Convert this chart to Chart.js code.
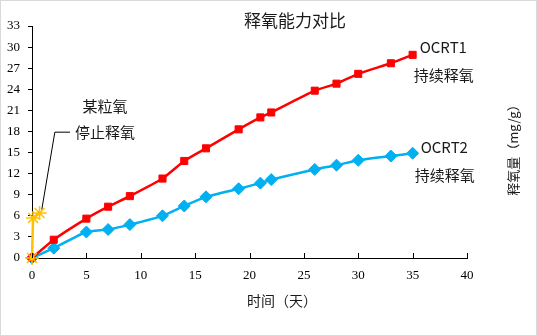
<!DOCTYPE html>
<html>
<head>
<meta charset="utf-8">
<script src="https://cdn.jsdelivr.net/npm/chart.js@4/dist/chart.umd.min.js"></script>
<style>
  html, body { margin: 0; padding: 0; background: #fff; }
  #wrap { width: 537px; height: 336px; }
</style>
</head>
<body>
<div id="wrap"><canvas id="chart" width="537" height="336"></canvas></div>
<script>
(function() {
  'use strict';
  // 时间（天）
  const days = [0, 2, 5, 7, 9, 12, 14, 16, 19, 21, 22, 26, 28, 30, 33, 35];
  // OCRT1 释氧量
  const ocrt1 = [0, 2.6, 5.6, 7.3, 8.8, 11.3, 13.8, 15.6, 18.3, 20.0, 20.7, 23.8, 24.8, 26.2, 27.7, 28.9];
  // OCRT2 释氧量
  const ocrt2 = [0, 1.4, 3.7, 4.05, 4.75, 6.0, 7.4, 8.7, 9.85, 10.65, 11.15, 12.6, 13.2, 13.9, 14.5, 14.9];
  // 某粒氧（停止释氧）
  const stopDays = [0, 0.1, 0.7];
  const stopValues = [0, 5.7, 6.4];
  // 引出线
  const leaderDays = [0.9, 2.1, 3.5];
  const leaderValues = [6.9, 17.9, 17.9];
  // 文字
  const titleText = '释氧能力对比';
  const xTitle = '时间（天）';
  const yTitle = '释氧量（mg/g）';
  const cjk = '"Noto Sans CJK SC", "Noto Sans", sans-serif';

  function toPoints(xs, ys) {
    return xs.map(function(x, i) { return { x: x, y: ys[i] }; });
  }

  // 文字・枠线
  const textPlugin = {
    id: 'texts',
    beforeDraw: function(chart) {
      const ctx = chart.ctx;
      ctx.save();
      ctx.fillStyle = '#fff';
      ctx.fillRect(0, 0, chart.width, chart.height);
      ctx.strokeStyle = '#d9d9d9';
      ctx.lineWidth = 1;
      ctx.strokeRect(0.5, 0.5, chart.width - 1, chart.height - 1);
      ctx.restore();
    },
    afterDraw: function(chart) {
      const ctx = chart.ctx;
      const xs = chart.scales.x;
      const ys = chart.scales.y;
      ctx.save();
      // x 轴内侧刻度
      ctx.strokeStyle = '#000';
      ctx.lineWidth = 1;
      xs.ticks.forEach(function(t) {
        const px = Math.round(xs.getPixelForValue(t.value)) + 0.5;
        ctx.beginPath();
        ctx.moveTo(px, ys.bottom);
        ctx.lineTo(px, ys.bottom - 5);
        ctx.stroke();
      });
      ctx.fillStyle = '#1a1a1a';
      ctx.textBaseline = 'middle';
      // 标题
      ctx.textAlign = 'center';
      ctx.font = '17px ' + cjk;
      ctx.fillText(titleText, 295, 21);
      // x 轴标题
      ctx.font = '14px ' + cjk;
      ctx.fillText(xTitle, 282, 301);
      // y 轴标题（右侧）
      ctx.save();
      ctx.translate(513, 147);
      ctx.rotate(-Math.PI / 2);
      ctx.font = '13px ' + cjk;
      ctx.fillText(yTitle, 0, 0);
      ctx.restore();
      // 系列标签
      ctx.textAlign = 'left';
      ctx.font = '15px ' + cjk;
      const last = days.length - 1;
      const r1x = xs.getPixelForValue(days[last]);
      const r1y = ys.getPixelForValue(ocrt1[last]);
      ctx.fillText('OCRT1', r1x + 7, r1y - 8);
      ctx.fillText('持续释氧', r1x + 1, r1y + 20);
      const r2x = xs.getPixelForValue(days[last]);
      const r2y = ys.getPixelForValue(ocrt2[last]);
      ctx.fillText('OCRT2', r2x + 8, r2y - 6);
      ctx.fillText('持续释氧', r2x + 2, r2y + 22);
      // 引出线文字
      const lx = xs.getPixelForValue(leaderDays[2]);
      const ly = ys.getPixelForValue(leaderValues[2]);
      ctx.fillText('停止释氧', lx + 5, ly);
      ctx.textAlign = 'center';
      ctx.fillText('某粒氧', lx + 35, ly - 26);
      ctx.restore();
    }
  };

  new Chart(document.getElementById('chart').getContext('2d'), {
    type: 'scatter',
    data: {
      datasets: [{
        label: '引出线',
        data: toPoints(leaderDays, leaderValues),
        showLine: true,
        borderColor: '#000',
        borderWidth: 1,
        pointRadius: 0,
        order: 4,
      }, {
        label: 'OCRT2',
        data: toPoints(days, ocrt2),
        showLine: true,
        borderColor: '#00B0F0',
        backgroundColor: '#00B0F0',
        borderWidth: 2.5,
        tension: 0.2,
        pointStyle: 'rectRot',
        pointRadius: 6,
        pointBorderWidth: 1,
        order: 3,
      }, {
        label: 'OCRT1',
        data: toPoints(days, ocrt1),
        showLine: true,
        borderColor: '#FF0000',
        backgroundColor: '#FF0000',
        borderWidth: 2.5,
        tension: 0.2,
        pointStyle: 'rect',
        pointRadius: 5,
        pointBorderWidth: 1,
        order: 2,
      }, {
        label: '某粒氧',
        data: toPoints(stopDays, stopValues),
        showLine: true,
        borderColor: '#FFC000',
        backgroundColor: '#FFC000',
        borderWidth: 2.5,
        pointStyle: 'star',
        pointRadius: 7,
        pointBorderWidth: 1.5,
        order: 1,
      }],
    },
    options: {
      responsive: false,
      animation: false,
      clip: false,
      layout: {
        padding: { left: 5, top: 26, right: 70, bottom: 0 },
      },
      plugins: {
        legend: { display: false },
        tooltip: { enabled: false },
      },
      scales: {
        x: {
          type: 'linear',
          min: 0,
          max: 40,
          afterFit: function(s) { s.height = 78; },
          ticks: {
            stepSize: 5,
            padding: 10,
            color: '#000',
            font: { family: '"Liberation Serif", serif', size: 13 },
          },
          grid: { drawOnChartArea: false, drawTicks: false },
          border: { display: true, color: '#000', width: 1 },
        },
        y: {
          min: 0,
          max: 33,
          afterFit: function(s) { s.width = 27; },
          ticks: {
            stepSize: 3,
            padding: 8,
            color: '#000',
            font: { family: '"Liberation Serif", serif', size: 13 },
          },
          grid: { drawOnChartArea: false, drawTicks: true, tickLength: 4, color: '#000' },
          border: { display: true, color: '#000', width: 1 },
        },
      },
    },
    plugins: [textPlugin],
  });
})();
</script>
</body>
</html>
